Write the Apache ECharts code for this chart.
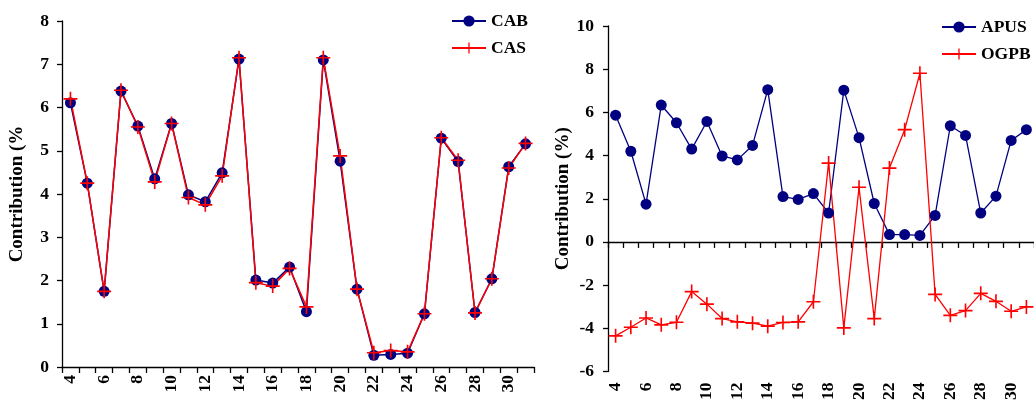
<!DOCTYPE html>
<html>
<head>
<meta charset="utf-8">
<script src="https://cdn.jsdelivr.net/npm/echarts@6/dist/echarts.min.js"></script>
<style>
  html, body { margin: 0; padding: 0; background: #fff; }
  #chart { width: 1034px; height: 403px; }
</style>
</head>
<body>
<div id="chart"></div>
<script>
// categories 4..31
const categories = ['4','5','6','7','8','9','10','11','12','13','14','15','16','17','18','19','20','21','22','23','24','25','26','27','28','29','30','31'];

// left panel
const cab = [6.11, 4.25, 1.75, 6.38, 5.57, 4.35, 5.63, 3.98, 3.82, 4.49, 7.12, 2.01, 1.94, 2.31, 1.28, 7.10, 4.76, 1.80, 0.27, 0.29, 0.32, 1.23, 5.29, 4.75, 1.26, 2.04, 4.63, 5.16];
const cas = [6.20, 4.25, 1.75, 6.40, 5.55, 4.28, 5.63, 3.92, 3.75, 4.42, 7.15, 1.95, 1.87, 2.28, 1.39, 7.15, 4.88, 1.80, 0.33, 0.38, 0.35, 1.23, 5.30, 4.78, 1.25, 2.04, 4.60, 5.17];

// right panel
const apus = [5.87, 4.20, 1.75, 6.34, 5.52, 4.30, 5.58, 3.98, 3.80, 4.47, 7.05, 2.10, 1.97, 2.24, 1.34, 7.03, 4.83, 1.78, 0.34, 0.34, 0.30, 1.23, 5.38, 4.93, 1.34, 2.12, 4.70, 5.20];
const ogpb = [-4.35, -3.95, -3.52, -3.84, -3.72, -2.30, -2.88, -3.55, -3.70, -3.76, -3.90, -3.73, -3.70, -2.77, 3.65, -3.98, 2.53, -3.55, 3.42, 5.20, 7.81, -2.43, -3.40, -3.18, -2.38, -2.75, -3.21, -3.01];

const font = 'Liberation Serif, Times New Roman, serif';
const navy = '#000080';
const red = '#FF0000';
const plus = 'path://M0,5.3H12V6.7H0ZM5.3,0H6.7V12H5.3Z';

const labelStyle = { fontFamily: font, fontWeight: 'bold', fontSize: 17.5, color: '#000' };
const titleStyle = { fontFamily: font, fontWeight: 'bold', fontSize: 19, color: '#000' };
const legendText = { fontFamily: font, fontWeight: 'bold', fontSize: 17.5, color: '#000' };
const axisLine = { show: true, onZero: false, lineStyle: { color: '#000', width: 1.3 } };
const tick = { color: '#000', width: 1.3 };

const chart = echarts.init(document.getElementById('chart'));

chart.setOption({
  animation: false,
  backgroundColor: '#fff',
  grid: [
    { left: 62, top: 21, width: 472, height: 346 },
    { left: 608, top: 26, width: 428, height: 348 }
  ],
  legend: [
    {
      data: ['CAB', 'CAS'], orient: 'vertical', left: 446, top: 7,
      itemWidth: 34, itemHeight: 14, itemGap: 9, textStyle: legendText
    },
    {
      data: ['APUS', 'OGPB'], orient: 'vertical', left: 936, top: 13,
      itemWidth: 34, itemHeight: 14, itemGap: 9, textStyle: legendText
    }
  ],
  xAxis: [
    {
      gridIndex: 0, type: 'category', data: categories, boundaryGap: true,
      axisLine: axisLine,
      axisTick: { show: true, interval: 0, length: 6, lineStyle: tick },
      axisLabel: Object.assign({ interval: 1, rotate: 90, margin: 8 }, labelStyle),
      splitLine: { show: false }
    },
    {
      gridIndex: 1, type: 'category', data: categories, boundaryGap: true,
      axisLine: { show: true, onZero: true, lineStyle: { color: '#000', width: 1.3 } },
      axisTick: { show: true, interval: 0, length: 6, lineStyle: tick },
      axisLabel: { show: false },
      splitLine: { show: false }
    },
    {
      gridIndex: 1, type: 'category', data: categories, boundaryGap: true, position: 'bottom',
      axisLine: { show: false, onZero: false },
      axisTick: { show: false },
      axisLabel: Object.assign({ interval: 1, rotate: 90, margin: 11 }, labelStyle),
      splitLine: { show: false }
    }
  ],
  yAxis: [
    {
      gridIndex: 0, type: 'value', min: 0, max: 8, interval: 1,
      name: 'Contribution (%', nameLocation: 'middle', nameRotate: 90, nameGap: 35,
      nameTextStyle: titleStyle,
      axisLine: axisLine,
      axisTick: { show: true, length: 5, lineStyle: tick },
      axisLabel: Object.assign({ margin: 13 }, labelStyle),
      splitLine: { show: false }
    },
    {
      gridIndex: 1, type: 'value', min: -6, max: 10, interval: 2,
      name: 'Contribution (%)', nameLocation: 'middle', nameRotate: 90, nameGap: 34,
      nameTextStyle: titleStyle,
      axisLine: axisLine,
      axisTick: { show: true, length: 5, lineStyle: tick },
      axisLabel: Object.assign({ margin: 14 }, labelStyle),
      splitLine: { show: false }
    }
  ],
  series: [
    {
      name: 'CAB', type: 'line', xAxisIndex: 0, yAxisIndex: 0, data: cab,
      symbol: 'circle', symbolSize: 11, showAllSymbol: true,
      itemStyle: { color: navy }, lineStyle: { color: navy, width: 1.5 }
    },
    {
      name: 'CAS', type: 'line', xAxisIndex: 0, yAxisIndex: 0, data: cas,
      symbol: plus, symbolSize: 14, showAllSymbol: true,
      itemStyle: { color: red }, lineStyle: { color: red, width: 1.5 }
    },
    {
      name: 'APUS', type: 'line', xAxisIndex: 1, yAxisIndex: 1, data: apus,
      symbol: 'circle', symbolSize: 11, showAllSymbol: true,
      itemStyle: { color: navy }, lineStyle: { color: navy, width: 1.3 }
    },
    {
      name: 'OGPB', type: 'line', xAxisIndex: 1, yAxisIndex: 1, data: ogpb,
      symbol: plus, symbolSize: 14, showAllSymbol: true,
      itemStyle: { color: red }, lineStyle: { color: red, width: 1.3 }
    }
  ]
});
</script>
</body>
</html>
